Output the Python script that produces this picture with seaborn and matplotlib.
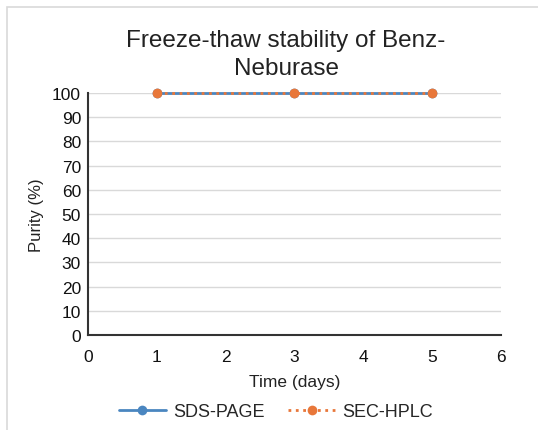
import matplotlib
matplotlib.use("Agg")
import matplotlib.pyplot as plt
import seaborn as sns
import pandas as pd
from matplotlib.patches import Rectangle

# data
days = [1, 3, 5]
sds_page = [99.8, 99.8, 99.8]
sec_hplc = [100, 100, 100]

df = pd.DataFrame({
    "Time (days)": days * 2,
    "Purity (%)": sds_page + sec_hplc,
    "Method": ["SDS-PAGE"] * 3 + ["SEC-HPLC"] * 3,
})

sns.set_style("white")
plt.rcParams['font.family'] = ['Liberation Sans', 'DejaVu Sans']

fig = plt.figure(figsize=(5.38, 4.31), dpi=100)
ax = fig.add_axes([88 / 538, 1 - 336 / 431, (501 - 88) / 538, (336 - 94) / 431])

# chart area border (light gray frame)
fig.patches.append(Rectangle((7 / 538, -0.05), 1.2, 1 - 8 / 431 + 0.05,
                             transform=fig.transFigure, fill=False,
                             edgecolor="#d9d9d9", linewidth=1.2))

colors = {"SDS-PAGE": "#4a86c0", "SEC-HPLC": "#e8773a"}
styles = {"SDS-PAGE": "-", "SEC-HPLC": ":"}
for name, grp in df.groupby("Method"):
    sns.lineplot(data=grp, x="Time (days)", y="Purity (%)", ax=ax,
                 color=colors[name], linestyle=styles[name], marker="o",
                 markersize=7, markeredgewidth=0, linewidth=2, label=name,
                 clip_on=False)

ax.set_xlim(0, 6)
ax.set_ylim(0, 100)
ax.set_xticks(range(0, 7))
ax.set_yticks(range(0, 101, 10))
ax.yaxis.grid(True, color="#d9d9d9", linewidth=1)
ax.set_axisbelow(True)
for side in ["top", "right"]:
    ax.spines[side].set_visible(False)
for side in ["left", "bottom"]:
    ax.spines[side].set_color("#333333")
    ax.spines[side].set_linewidth(1.5)
ax.tick_params(axis="both", direction="in", length=4, width=1.2,
               colors="#333333", labelsize=12.5, labelcolor="#111111")
ax.tick_params(axis="x", pad=10)
ax.tick_params(axis="y", pad=5)
ax.set_xlabel("Time (days)", fontsize=12.5, color="#222222", labelpad=7)
ax.set_ylabel("Purity (%)", fontsize=12, color="#222222", labelpad=6)

fig.text(286 / 538, 1 - 55 / 431, "Freeze-thaw stability of Benz-\nNeburase",
         ha="center", va="center", fontsize=17.5, color="#222222", linespacing=1.4)

ax.legend(loc="upper center", bbox_to_anchor=(0.455, -0.215), ncol=2, frameon=False,
          fontsize=13, handlelength=2.6, columnspacing=1.3, handletextpad=0.4)

fig.savefig("out.png", dpi=100)
